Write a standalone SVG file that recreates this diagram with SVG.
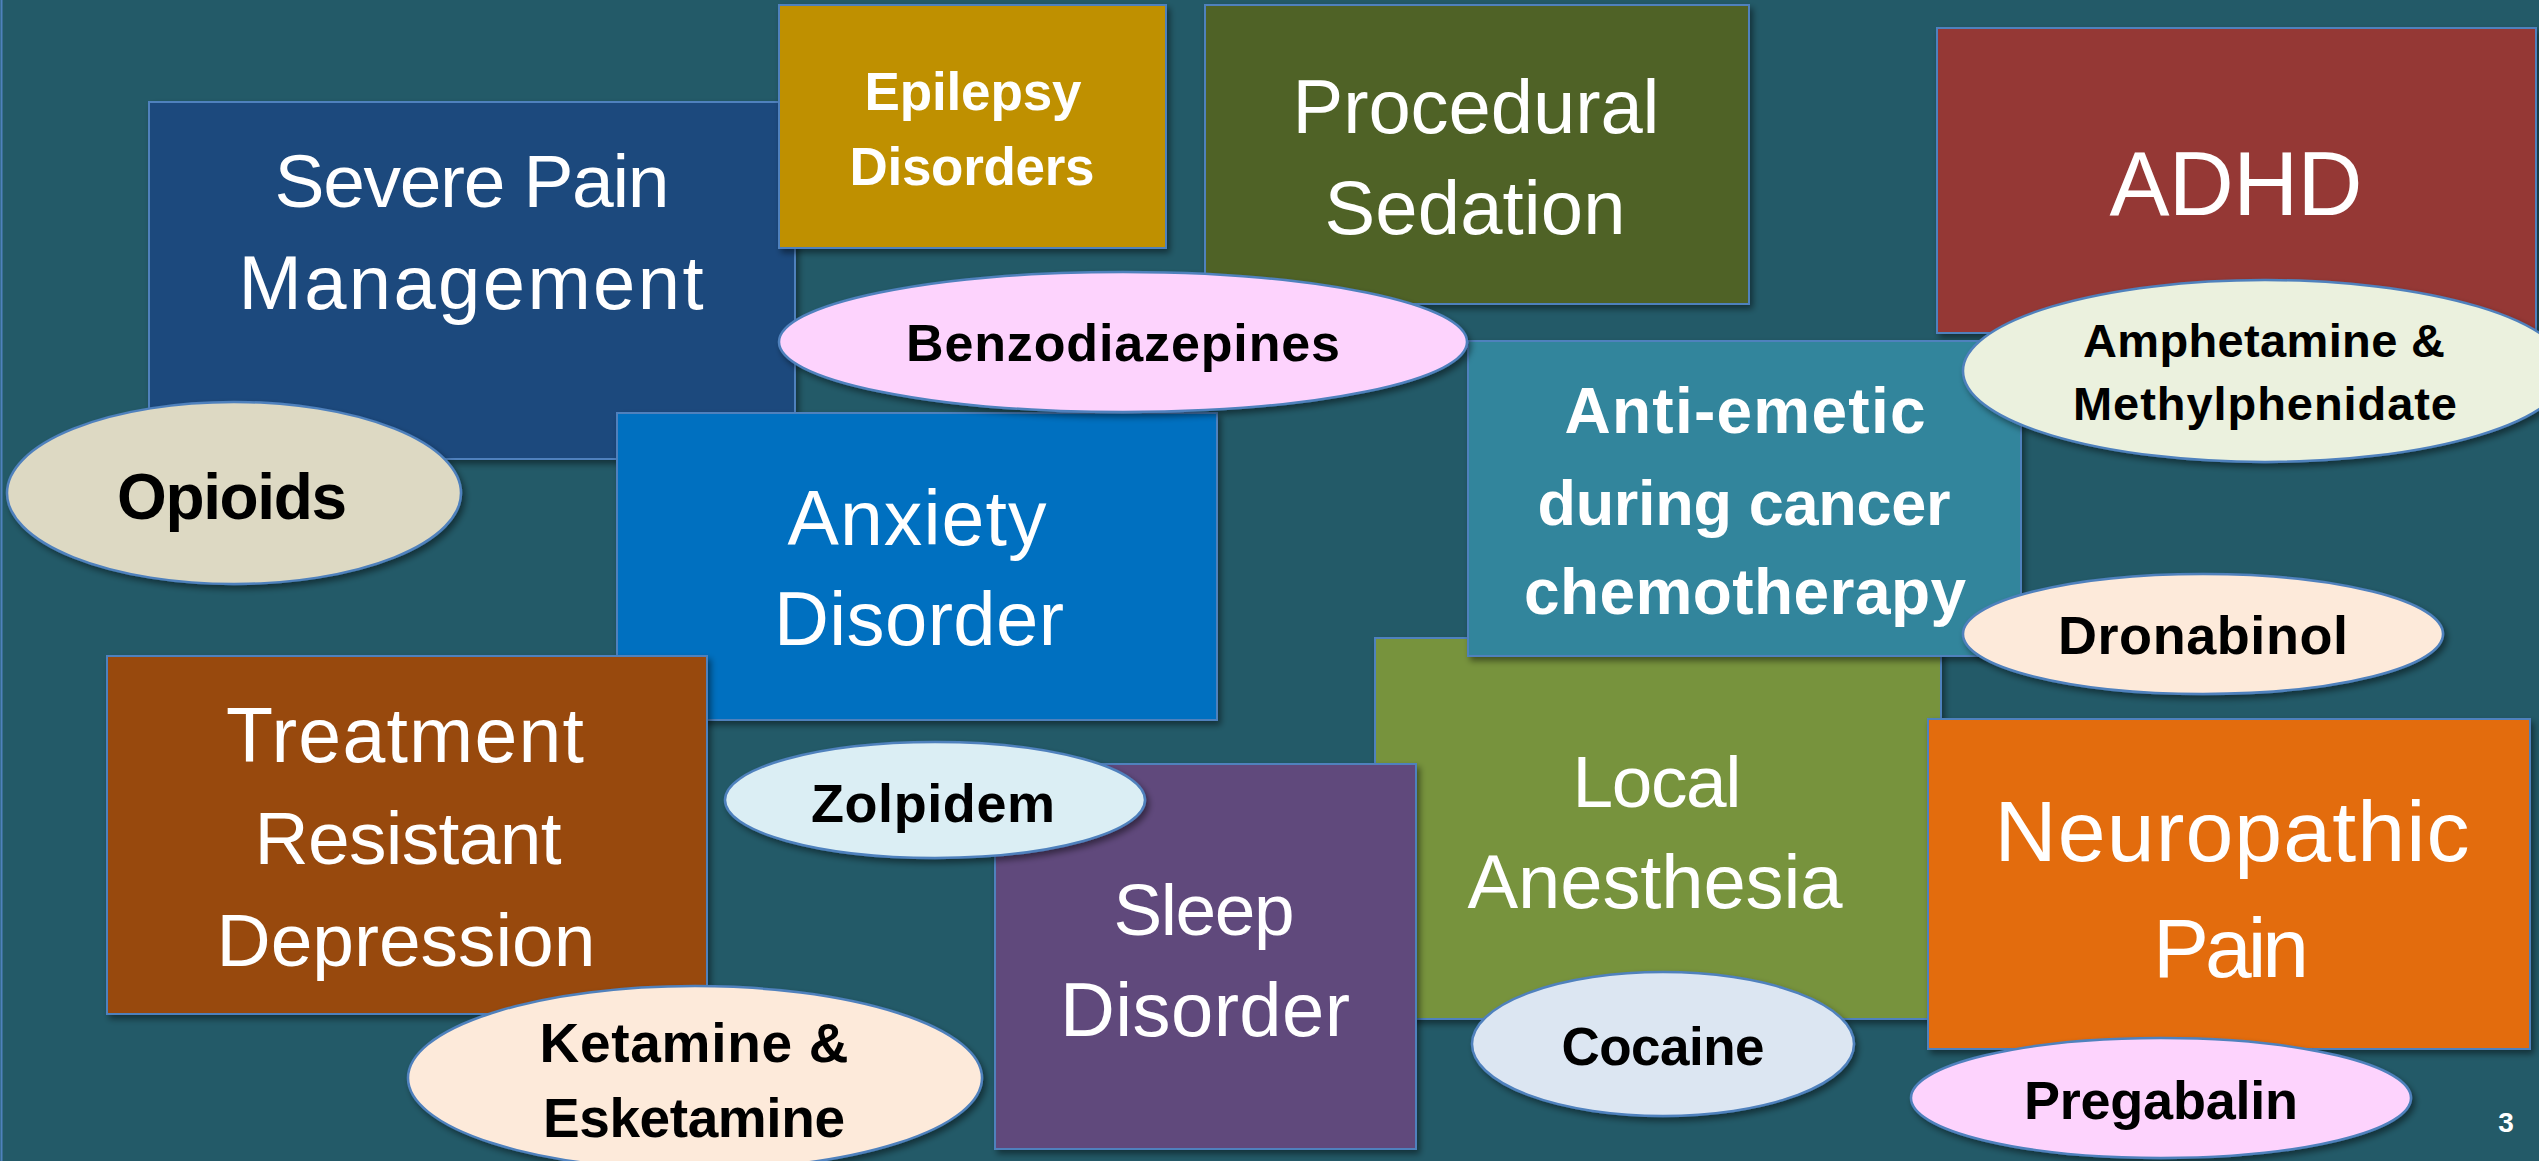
<svg xmlns="http://www.w3.org/2000/svg" width="2539" height="1161" viewBox="0 0 2539 1161">
<defs>
<filter id="sh" x="-10%" y="-10%" width="130%" height="130%">
<feDropShadow dx="3" dy="4" stdDeviation="3" flood-color="#000" flood-opacity="0.45"/>
</filter>
<style>
.box{stroke:#4F81BD;stroke-width:2;filter:url(#sh)}
.ell{stroke:#4F81BD;stroke-width:2.5;filter:url(#sh)}
.r{font-family:"Liberation Sans",Arial,sans-serif;fill:#fff;text-anchor:middle}
.bw{font-family:"Liberation Sans",Arial,sans-serif;fill:#fff;text-anchor:middle;font-weight:bold}
.bk{font-family:"Liberation Sans",Arial,sans-serif;fill:#000;text-anchor:middle;font-weight:bold}
</style>
</defs>
<rect x="0" y="0" width="2539" height="1161" fill="#235A68"/>
<line x1="1.5" y1="0" x2="1.5" y2="1161" stroke="#4F81BD" stroke-width="2"/>

<g id="severe-pain">
<rect class="box" x="149" y="102" width="646" height="357" fill="#1F497D"/>
<text class="r" x="472" y="207" font-size="75" textLength="395">Severe Pain</text>
<text class="r" x="471" y="309" font-size="76" textLength="465">Management</text>
</g>
<g id="epilepsy">
<rect class="box" x="779" y="5" width="387" height="243" fill="#BF9000"/>
<text class="bw" x="973" y="110" font-size="53" textLength="217">Epilepsy</text>
<text class="bw" x="972" y="185" font-size="53" textLength="245">Disorders</text>
</g>
<g id="procedural">
<rect class="box" x="1205" y="5" width="544" height="299" fill="#4F6228"/>
<text class="r" x="1476" y="133" font-size="76" textLength="367">Procedural</text>
<text class="r" x="1475" y="234" font-size="76" textLength="301">Sedation</text>
</g>
<g id="adhd">
<rect class="box" x="1937" y="28" width="599" height="305" fill="#953735"/>
<text class="r" x="2236" y="215" font-size="90" textLength="253">ADHD</text>
</g>
<g id="local-anesthesia">
<rect class="box" x="1375" y="638" width="566" height="381" fill="#77933C"/>
<text class="r" x="1657" y="807" font-size="73" textLength="169">Local</text>
<text class="r" x="1655" y="908" font-size="76" textLength="375">Anesthesia</text>
</g>
<g id="anxiety">
<rect class="box" x="617" y="413" width="600" height="307" fill="#0070C0"/>
<text class="r" x="917" y="545" font-size="77" textLength="259">Anxiety</text>
<text class="r" x="919" y="645" font-size="76" textLength="290">Disorder</text>
</g>
<g id="treatment">
<rect class="box" x="107" y="656" width="600" height="358" fill="#984807"/>
<text class="r" x="405" y="762" font-size="77" textLength="358">Treatment</text>
<text class="r" x="408" y="864" font-size="75" textLength="307">Resistant</text>
<text class="r" x="406" y="966" font-size="75" textLength="379">Depression</text>
</g>
<g id="anti-emetic">
<rect class="box" x="1468" y="341" width="553" height="315" fill="#31859C"/>
<text class="bw" x="1745" y="433" font-size="64" textLength="361">Anti-emetic</text>
<text class="bw" x="1744" y="525" font-size="63" textLength="413">during cancer</text>
<text class="bw" x="1745" y="614" font-size="64" textLength="442">chemotherapy</text>
</g>
<g id="neuropathic">
<rect class="box" x="1928" y="719" width="602" height="330" fill="#E36C09"/>
<text class="r" x="2232" y="861" font-size="86" textLength="475">Neuropathic</text>
<text class="r" x="2231" y="977" font-size="84" textLength="156">Pain</text>
</g>
<g id="sleep">
<rect class="box" x="995" y="764" width="421" height="385" fill="#604A7B"/>
<text class="r" x="1204" y="935" font-size="73" textLength="181">Sleep</text>
<text class="r" x="1205" y="1036" font-size="76" textLength="290">Disorder</text>
</g>

<g id="opioids">
<ellipse class="ell" cx="234" cy="493" rx="227" ry="91" fill="#DDD9C3"/>
<text class="bk" x="232" y="519" font-size="64" textLength="230">Opioids</text>
</g>
<g id="benzodiazepines">
<ellipse class="ell" cx="1123" cy="342" rx="344" ry="70" fill="#FDD3FD"/>
<text class="bk" x="1123" y="361" font-size="52" textLength="434">Benzodiazepines</text>
</g>
<g id="amphetamine">
<ellipse class="ell" cx="2265" cy="371" rx="302" ry="91" fill="#EBF1DE"/>
<text class="bk" x="2264" y="357" font-size="47" textLength="362">Amphetamine &amp;</text>
<text class="bk" x="2265" y="420" font-size="47" textLength="384">Methylphenidate</text>
</g>
<g id="dronabinol">
<ellipse class="ell" cx="2203" cy="634" rx="240" ry="60" fill="#FDEADA"/>
<text class="bk" x="2203" y="654" font-size="54" textLength="290">Dronabinol</text>
</g>
<g id="zolpidem">
<ellipse class="ell" cx="935" cy="800" rx="210" ry="58" fill="#DBEEF4"/>
<text class="bk" x="933" y="822" font-size="54" textLength="244">Zolpidem</text>
</g>
<g id="ketamine">
<ellipse class="ell" cx="695" cy="1078" rx="287" ry="92" fill="#FDEADA"/>
<text class="bk" x="694" y="1062" font-size="55" textLength="309">Ketamine &amp;</text>
<text class="bk" x="694" y="1137" font-size="55" textLength="302">Esketamine</text>
</g>
<g id="cocaine">
<ellipse class="ell" cx="1663" cy="1044" rx="191" ry="72" fill="#DCE6F2"/>
<text class="bk" x="1663" y="1065" font-size="53" textLength="203">Cocaine</text>
</g>
<g id="pregabalin">
<ellipse class="ell" cx="2161" cy="1098" rx="250" ry="60" fill="#FDD3FD"/>
<text class="bk" x="2161" y="1119" font-size="54" textLength="274">Pregabalin</text>
</g>
<text class="bw" x="2506" y="1132" font-size="28">3</text>
</svg>
